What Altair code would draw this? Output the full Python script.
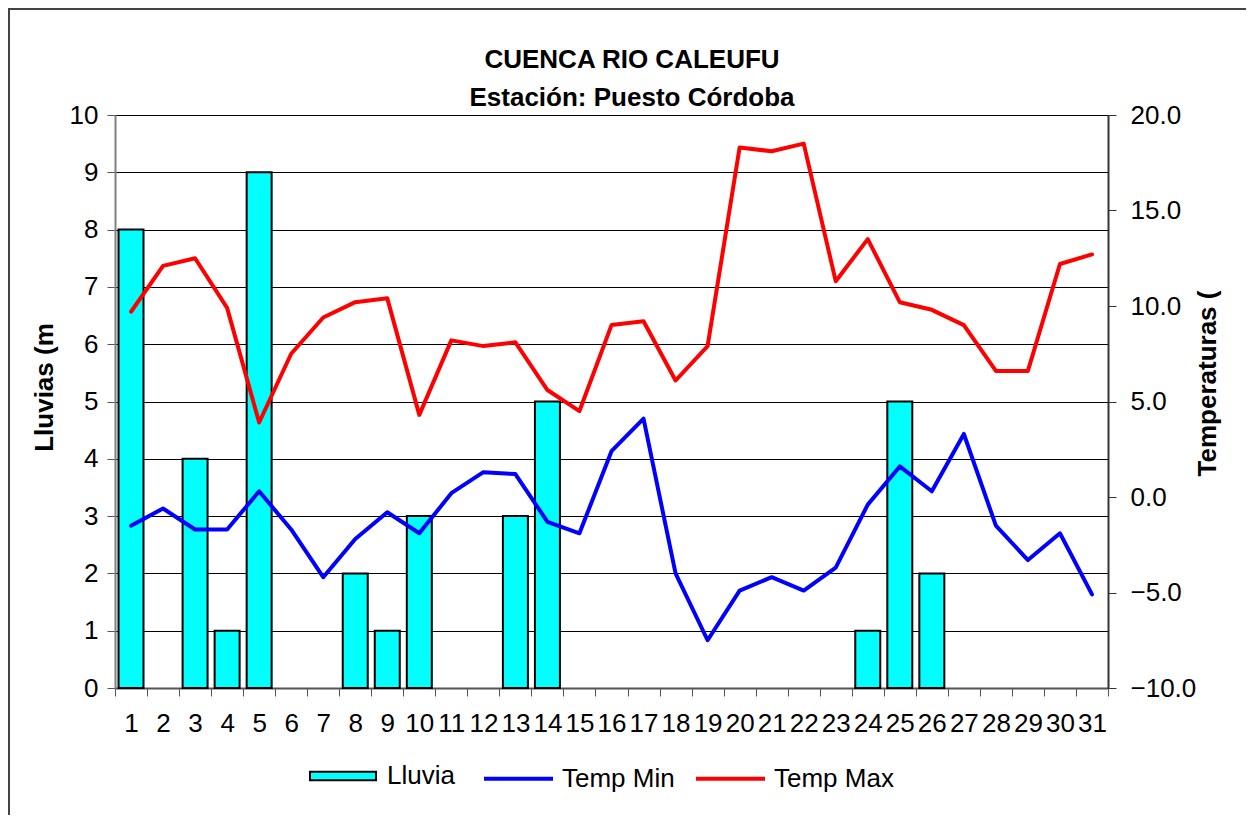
import altair as alt
import pandas as pd

# ---- data ----
days = list(range(1, 32))
lluvia = [8, 0, 4, 1, 9, 0, 0, 2, 1, 3, 0, 0, 3, 5, 0, 0, 0, 0, 0, 0, 0, 0, 0, 1, 5, 2, 0, 0, 0, 0, 0]
temp_min = [-1.5, -0.6, -1.7, -1.7, 0.3, -1.7, -4.2, -2.2, -0.8, -1.9, 0.2, 1.3, 1.2, -1.3, -1.9,
            2.4, 4.1, -4.0, -7.5, -4.9, -4.2, -4.9, -3.7, -0.4, 1.6, 0.3, 3.3, -1.5, -3.3, -1.9, -5.1]
temp_max = [9.7, 12.1, 12.5, 9.9, 3.9, 7.5, 9.4, 10.2, 10.4, 4.3, 8.2, 7.9, 8.1, 5.6, 4.5,
            9.0, 9.2, 6.1, 7.9, 18.3, 18.1, 18.5, 11.3, 13.5, 10.2, 9.8, 9.0, 6.6, 6.6, 12.2, 12.7]
series_names = ["Temp Min", "Temp Max"]
series_colors = ["#0000FF", "#FF0000"]
rain_name = "Lluvia"
title_lines = ["CUENCA RIO CALEUFU", "Estación: Puesto Córdoba"]
left_title = "Lluvias (m"
right_title = "Temperaturas ("
left_ticks = list(range(0, 11))
right_ticks = [-10, -5, 0, 5, 10, 15, 20]

FONT = "Liberation Sans"

rain_df = pd.DataFrame({"Dia": days, "Lluvia": lluvia, "Serie": rain_name})
temp_df = pd.DataFrame({
    "Dia": days * 2,
    "Temp": temp_min + temp_max,
    "Serie": [series_names[0]] * len(days) + [series_names[1]] * len(days),
})

W, H = 993, 573
PAD_L, PAD_T = 107, 107
PAD_R = 1238 - PAD_L - W
PAD_B = 807 - PAD_T - H

x_enc = alt.X(
    "Dia:O",
    scale=alt.Scale(domain=days, paddingInner=0, paddingOuter=0),
    axis=alt.Axis(
        title=None, labelAngle=0, tickBand="extent", tickSize=8, tickColor="#555555",
        domainColor="#555555", domainWidth=2, labelFontSize=26, labelFont=FONT,
        labelColor="black", labelPadding=14, grid=False, labelOverlap=False,
    ),
)

frame = alt.Chart(pd.DataFrame({"f": [0]})).mark_rect(
    fill=None, stroke="#444444", strokeWidth=2
).encode(
    x=alt.value(-106), x2=alt.value(W + PAD_R + 20),
    y=alt.value(-106), y2=alt.value(H + PAD_B + 20),
)

title1 = alt.Chart(pd.DataFrame({"t": [title_lines[0]]})).mark_text(
    font=FONT, fontSize=26, fontWeight="bold", color="black", align="center", baseline="middle"
).encode(text="t:N", x=alt.value(517), y=alt.value(-55))

title2 = alt.Chart(pd.DataFrame({"t": [title_lines[1]]})).mark_text(
    font=FONT, fontSize=26, fontWeight="bold", color="black", align="center", baseline="middle"
).encode(text="t:N", x=alt.value(517), y=alt.value(-17))

bars = alt.Chart(rain_df).transform_filter("datum.Lluvia > 0").mark_bar(
    width=alt.RelativeBandSize(0.78), stroke="black", strokeWidth=2
).encode(
    x=x_enc,
    y=alt.Y(
        "Lluvia:Q",
        scale=alt.Scale(domain=[0, 10], nice=False),
        axis=alt.Axis(
            orient="left", values=left_ticks, title=left_title, grid=True,
            gridColor="black", gridWidth=1, tickSize=8, tickColor="#555555",
            domainColor="#808080", domainWidth=2, labelFontSize=26, labelFont=FONT,
            labelColor="black", labelPadding=9,
            titleFont=FONT, titleFontSize=26, titleFontWeight="bold", titleColor="black",
            titleAngle=270, titleAlign="center", titleBaseline="middle",
            titleX=-71, titleY=272,
        ),
    ),
    fill=alt.Fill(
        "Serie:N",
        scale=alt.Scale(domain=[rain_name], range=["#00FFFF"]),
        legend=alt.Legend(
            title=None, orient="none", legendX=194, legendY=627, padding=0,
            symbolType="M-1,-0.13L1,-0.13L1,0.13L-1,0.13Z", symbolSize=4356,
            symbolStrokeColor="black", symbolStrokeWidth=2, symbolOpacity=1,
            labelFontSize=26, labelFont=FONT, labelColor="black", labelOffset=10,
        ),
    ),
)

lines = alt.Chart(temp_df).mark_line(strokeWidth=4, strokeJoin="round", strokeCap="round").encode(
    x=x_enc,
    y=alt.Y(
        "Temp:Q",
        scale=alt.Scale(domain=[-10, 20], nice=False),
        axis=alt.Axis(
            orient="right", values=right_ticks, format=".1f", title=right_title, grid=False,
            tickSize=8, tickColor="#333333", domainColor="#333333", domainWidth=2,
            labelFontSize=26, labelFont=FONT, labelColor="black", labelPadding=14,
            titleFont=FONT, titleFontSize=26, titleFontWeight="bold", titleColor="black",
            titleAngle=270, titleAlign="center", titleBaseline="middle",
            titleX=99, titleY=268,
        ),
    ),
    stroke=alt.Stroke(
        "Serie:N",
        scale=alt.Scale(domain=series_names, range=series_colors),
        sort=series_names,
        legend=alt.Legend(
            title=None, orient="none", direction="horizontal", legendX=367, legendY=627,
            padding=0, symbolType="stroke", symbolSize=4761, symbolStrokeWidth=4,
            columnPadding=13, labelFontSize=26, labelFont=FONT, labelColor="black",
            labelOffset=7,
        ),
    ),
)

chart = alt.layer(frame, title1, title2, bars, lines).resolve_scale(
    y="independent", fill="independent", stroke="independent"
).properties(
    width=W, height=H,
    autosize=alt.AutoSizeParams(type="none"),
    padding={"left": PAD_L, "top": PAD_T, "right": PAD_R, "bottom": PAD_B},
).configure_view(
    stroke="#808080", strokeWidth=2
).configure(background="white")

chart.save("out.html", embed_options={"renderer": "svg", "actions": False})
